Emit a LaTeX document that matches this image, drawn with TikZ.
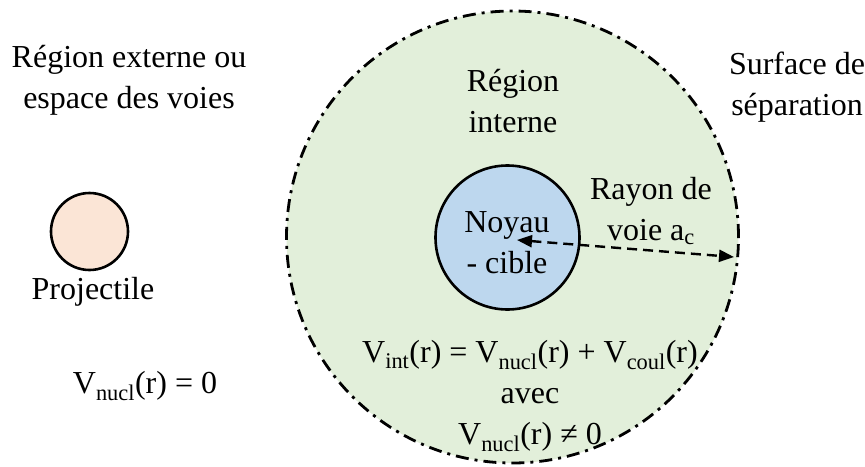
\documentclass[tikz,border=0pt]{standalone}
\usepackage{fontspec}
\setmainfont{LiberationSerif}[Extension=.ttf,UprightFont=*-Regular,BoldFont=*-Bold,ItalicFont=*-Italic]
\usetikzlibrary{arrows.meta}
\definecolor{zonegreen}{HTML}{E2EFDA}
\definecolor{nucblue}{HTML}{BDD7EE}
\definecolor{projpink}{HTML}{FBE5D6}
\begin{document}
\begin{tikzpicture}[x=1pt,y=-1pt,
  lbl/.style={align=center,font=\rmfamily\fontsize{32}{41}\selectfont,inner sep=0pt},
  sphere/.style={draw=black,line width=2.6pt}]
\useasboundingbox (0,0) rectangle (865,466);
% surface of separation
\node[draw=black,fill=zonegreen,line width=2.8pt,
      dash pattern=on 13pt off 6pt on 3pt off 6pt,
      circle,minimum size=452pt,inner sep=0pt] (zone) at (512.5,237) {};
\node[sphere,fill=nucblue,circle,minimum size=144pt,inner sep=0pt] (noyau) at (507.5,237.5) {};
\node[sphere,fill=projpink,circle,minimum size=77pt,inner sep=0pt] (proj) at (89.5,231.5) {};
% texts
\node[lbl] (ext) at (129,80) {Région externe ou\\espace des voies};
\node[lbl] (int) at (513,101) {Région\\interne};
\node[lbl] (surf) at (797,87) {Surface de\\séparation};
\node[lbl] (ray) at (651,211) {Rayon de\\voie a\textsubscript{c}};
\node[lbl] (noy) at (507,243) {Noyau\\- cible};
\node[lbl] (ptxt) at (93,292) {Projectile};
\node[lbl] (vint) at (530,396) {V\textsubscript{int}(r) = V\textsubscript{nucl}(r) + V\textsubscript{coul}(r)\\avec\\V\textsubscript{nucl}(r) ≠ 0};
\node[lbl] (vext) at (145,386) {V\textsubscript{nucl}(r) = 0};
% channel radius arrow
\coordinate (arrL) at (517,240);
\coordinate (arrR) at (734,257);
\draw[line width=2.4pt,dash pattern=on 10pt off 6pt,
      {Triangle[length=15pt,width=12pt]}-{Triangle[length=15pt,width=12pt]}] (arrL) -- (arrR);
\end{tikzpicture}
\end{document}
